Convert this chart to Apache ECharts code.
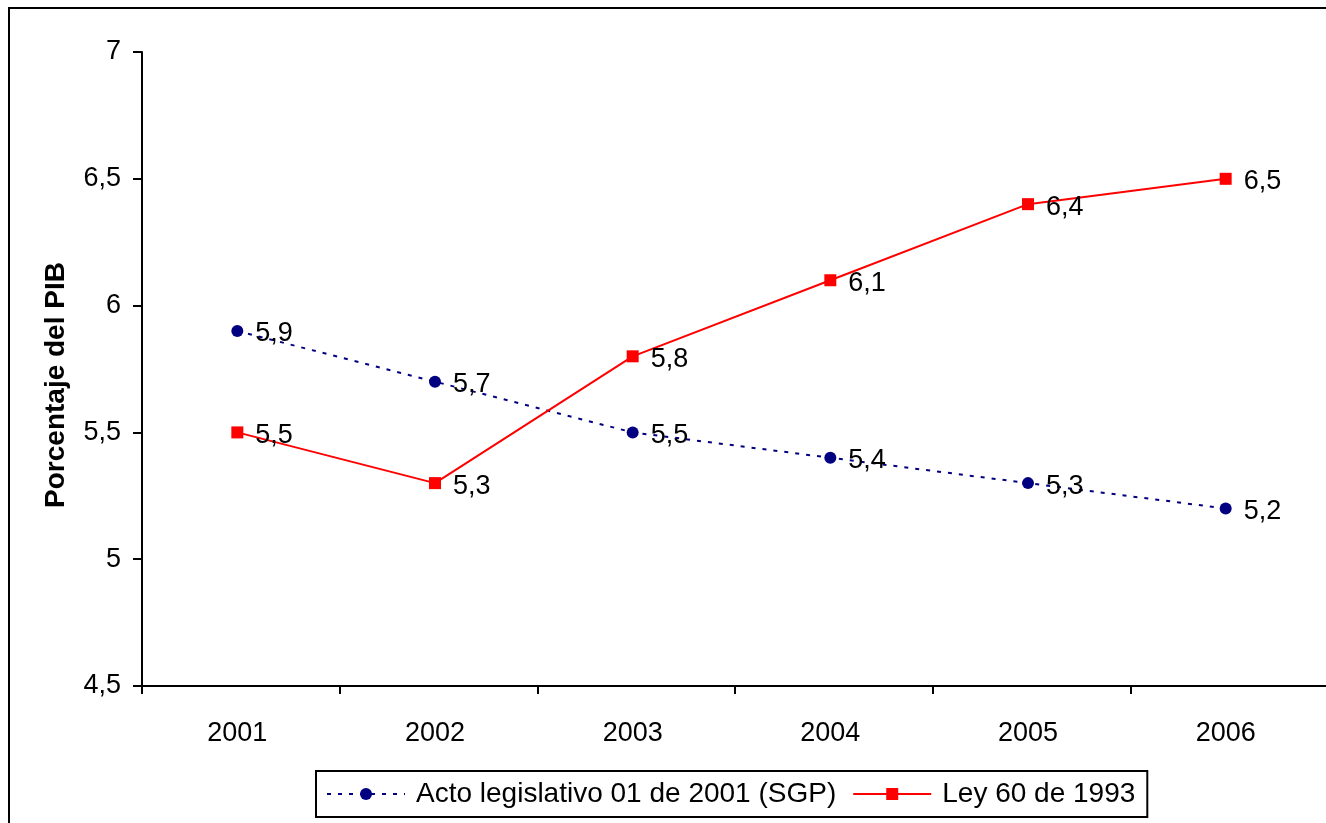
<!DOCTYPE html>
<html>
<head>
<meta charset="utf-8">
<script src="https://cdn.jsdelivr.net/npm/echarts@6/dist/echarts.min.js"></script>
<style>
  html, body { margin: 0; padding: 0; background: #fff; }
  #chart { width: 1326px; height: 823px; }
</style>
</head>
<body>
<div id="chart"></div>
<script>
// Years on the category axis
const years = ['2001', '2002', '2003', '2004', '2005', '2006'];
// Series names
const nameActo = 'Acto legislativo 01 de 2001 (SGP)';
const nameLey = 'Ley 60 de 1993';
// Values as percentage of GDP
const actoValues = [5.9, 5.7, 5.5, 5.4, 5.3, 5.2];
const leyValues = [5.5, 5.3, 5.8, 6.1, 6.4, 6.5];
// Value axis range
const yMin = 4.5;
const yMax = 7;
const yStep = 0.5;
const yTitle = 'Porcentaje del PIB';

const FONT = '"Liberation Sans", Arial, sans-serif';
const comma = v => String(v).replace('.', ',');

const chart = echarts.init(document.getElementById('chart'), null, { renderer: 'canvas' });

const labelStyle = {
  show: true,
  position: 'right',
  distance: 12,
  offset: [0, 3],
  color: '#000',
  fontFamily: FONT,
  fontSize: 27,
  formatter: p => comma(p.value)
};

// Grid 0 carries the visible axis frame (lines, ticks, value labels);
// grid 1 carries the plotted series and the year labels, nudged slightly left.
const plotWidth = 1186;
const plotHeight = 634;

chart.setOption({
  backgroundColor: '#fff',
  animation: false,
  grid: [
    { left: 142, top: 52, width: plotWidth, height: plotHeight, containLabel: false, outerBoundsMode: 'none' },
    { left: 138.5, top: 52, width: plotWidth, height: plotHeight, containLabel: false, outerBoundsMode: 'none' }
  ],
  legend: {
    left: 316,
    top: 771,
    padding: [9, 12, 9, 10],
    borderColor: '#000',
    borderWidth: 2,
    itemWidth: 78,
    itemHeight: 15,
    itemGap: 16,
    textStyle: {
      color: '#000',
      fontFamily: FONT,
      fontSize: 28,
      padding: [0, 0, 0, 6]
    },
    data: [nameActo, nameLey]
  },
  xAxis: [
    {
      type: 'category',
      gridIndex: 0,
      data: years,
      boundaryGap: true,
      axisLine: { lineStyle: { color: '#000', width: 2 } },
      axisTick: { show: true, length: 8, alignWithLabel: false, lineStyle: { color: '#000', width: 2 } },
      axisLabel: { show: false },
      splitLine: { show: false }
    },
    {
      type: 'category',
      gridIndex: 1,
      data: years,
      boundaryGap: true,
      axisLine: { show: false },
      axisTick: { show: false },
      axisLabel: { color: '#000', fontFamily: FONT, fontSize: 27, margin: 34 },
      splitLine: { show: false }
    }
  ],
  yAxis: [
    {
      type: 'value',
      gridIndex: 0,
      min: yMin,
      max: yMax,
      interval: yStep,
      axisLine: { show: true, lineStyle: { color: '#000', width: 2 } },
      axisTick: { show: true, length: 9, lineStyle: { color: '#000', width: 2 } },
      axisLabel: { color: '#000', fontFamily: FONT, fontSize: 27, margin: 21, formatter: v => comma(v) },
      splitLine: { show: false }
    },
    {
      type: 'value',
      gridIndex: 1,
      min: yMin,
      max: yMax,
      interval: yStep,
      show: false,
      splitLine: { show: false }
    }
  ],
  series: [
    {
      name: nameActo,
      type: 'line',
      xAxisIndex: 1,
      yAxisIndex: 1,
      data: actoValues,
      symbol: 'circle',
      symbolSize: 12,
      color: '#000080',
      itemStyle: { color: '#000080' },
      lineStyle: { color: '#000080', width: 2, type: [4, 7] },
      label: labelStyle,
      z: 2
    },
    {
      name: nameLey,
      type: 'line',
      xAxisIndex: 1,
      yAxisIndex: 1,
      data: leyValues,
      symbol: 'rect',
      symbolSize: 12,
      color: '#FF0000',
      itemStyle: { color: '#FF0000' },
      lineStyle: { color: '#FF0000', width: 2 },
      label: labelStyle,
      z: 3
    }
  ],
  graphic: [
    {
      type: 'rect',
      shape: { x: 9, y: 8, width: 1340, height: 840 },
      style: { fill: null, stroke: '#000', lineWidth: 2 },
      silent: true
    },
    {
      type: 'text',
      x: 56,
      y: 385,
      rotation: Math.PI / 2,
      style: {
        text: yTitle,
        fill: '#000',
        font: 'bold 28px ' + FONT,
        align: 'center',
        verticalAlign: 'middle'
      },
      silent: true
    }
  ]
});
</script>
</body>
</html>
